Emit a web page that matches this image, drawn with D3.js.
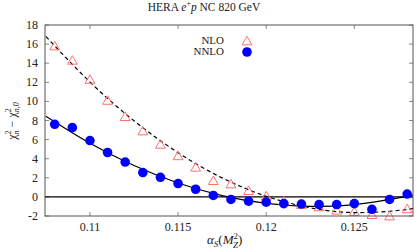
<!DOCTYPE html>
<html>
<head>
<meta charset="utf-8">
<script src="https://cdn.jsdelivr.net/npm/d3@7"></script>
<style>
  body { margin: 0; background: #fff; }
  text { font-family: "Liberation Serif", "DejaVu Serif", serif; fill: #222; }
</style>
</head>
<body>
<div id="chart"></div>
<script>
// alpha_s values of the scan points
var alphas = [0.108, 0.109, 0.110, 0.111, 0.112, 0.113, 0.114, 0.115, 0.116, 0.117, 0.118,
              0.119, 0.120, 0.121, 0.122, 0.123, 0.124, 0.125, 0.126, 0.127, 0.128];
// delta chi2
var nlo  = [15.8, 14.3, 12.3, 10.1, 8.4, 6.9, 5.5, 4.3, 3.1, 1.7, 1.35,
            0.65, 0.1, -0.45, -0.8, -1.05, -1.4, -1.55, -1.85, -2.0, -1.25];
var nnlo = [7.6, 7.25, 5.9, 4.65, 3.65, 2.55, 2.05, 1.4, 0.8, 0.15, -0.27,
            -0.45, -0.55, -0.7, -0.75, -0.8, -0.8, -0.7, -1.3, -0.27, 0.3];
// fitted curves
var fitX    = [0.1075, 0.110, 0.1125, 0.115, 0.1175, 0.120, 0.1225, 0.125, 0.1275, 0.1284];
var nloFit  = [16.8, 12.03, 7.97, 4.63, 1.99, 0.07, -1.14, -1.64, -1.42, -1.17];
var nnloFit = [8.44, 5.61, 3.28, 1.45, 0.13, -0.68, -0.99, -0.8, -0.11, 0.26];
var xTicks = [0.11, 0.115, 0.12, 0.125];
var yTicks = [-2, 0, 2, 4, 6, 8, 10, 12, 14, 16, 18];

var W = 417, H = 252;
var svg = d3.select('#chart').append('svg').attr('width', W).attr('height', H);

var pl = 45, pr = 413, pt = 25, pb = 216;
var x = d3.scaleLinear().domain([0.10745, 0.12833]).range([pl, pr]);
var y = d3.scaleLinear().domain([-2, 18]).range([pb, pt]);

// title
var title = svg.append('text').attr('x', 204).attr('y', 11).attr('text-anchor', 'middle')
    .style('font-size', '11.5px');
title.append('tspan').text('HERA ');
title.append('tspan').style('font-style', 'italic').text('e');
title.append('tspan').attr('dy', -5).style('font-size', '8px').text('+');
title.append('tspan').attr('dy', 5).style('font-style', 'italic').text('p');
title.append('tspan').text(' NC 820 GeV');

// frame ticks
var tickLen = 4;
var g = svg.append('g');
xTicks.forEach(function(t) {
  g.append('line').attr('x1', x(t)).attr('x2', x(t)).attr('y1', pb).attr('y2', pb - tickLen)
    .attr('stroke', '#888');
  g.append('line').attr('x1', x(t)).attr('x2', x(t)).attr('y1', pt).attr('y2', pt + tickLen)
    .attr('stroke', '#888');
  svg.append('text').attr('x', x(t)).attr('y', 231).attr('text-anchor', 'middle')
    .style('font-size', '12px').text(d3.format('')(t));
});
yTicks.forEach(function(t) {
  g.append('line').attr('x1', pl).attr('x2', pl + tickLen).attr('y1', y(t)).attr('y2', y(t))
    .attr('stroke', '#888');
  g.append('line').attr('x1', pr).attr('x2', pr - tickLen).attr('y1', y(t)).attr('y2', y(t))
    .attr('stroke', '#888');
  svg.append('text').attr('x', 38).attr('y', y(t) + 4).attr('text-anchor', 'end')
    .style('font-size', '12px').text(t);
});

// zero line
svg.append('line').attr('x1', pl).attr('x2', pr).attr('y1', y(0)).attr('y2', y(0))
  .attr('stroke', '#000').attr('stroke-width', 1.2);

// fit curves
var line = d3.line().x(function(d) { return x(d[0]); }).y(function(d) { return y(d[1]); })
  .curve(d3.curveNatural);
svg.append('clipPath').attr('id', 'clip').append('rect')
  .attr('x', pl).attr('y', pt).attr('width', pr - pl).attr('height', pb - pt);
svg.append('path').attr('clip-path', 'url(#clip)')
  .attr('d', line(d3.zip(fitX, nloFit)))
  .attr('fill', 'none').attr('stroke', '#000').attr('stroke-width', 1.2)
  .attr('stroke-dasharray', '4,3');
svg.append('path').attr('clip-path', 'url(#clip)')
  .attr('d', line(d3.zip(fitX, nnloFit)))
  .attr('fill', 'none').attr('stroke', '#000').attr('stroke-width', 1.2);

// points
var tri = d3.symbol().type(d3.symbolTriangle).size(42);
svg.append('g').selectAll('path').data(d3.zip(alphas, nlo)).enter().append('path')
  .attr('d', tri)
  .attr('transform', function(d) { return 'translate(' + x(d[0]) + ',' + (y(d[1]) + 1) + ')'; })
  .attr('fill', 'none').attr('stroke', '#ff6f6f').attr('stroke-width', 1);
svg.append('g').selectAll('circle').data(d3.zip(alphas, nnlo)).enter().append('circle')
  .attr('cx', function(d) { return x(d[0]); })
  .attr('cy', function(d) { return y(d[1]); })
  .attr('r', 4.8).attr('fill', '#0000ff');

// frame
svg.append('rect').attr('x', pl).attr('y', pt).attr('width', pr - pl).attr('height', pb - pt)
  .attr('fill', 'none').attr('stroke', '#555').attr('stroke-width', 1);

// legend
svg.append('text').attr('x', 224).attr('y', 43.5).attr('text-anchor', 'end')
  .style('font-size', '11px').text('NLO');
svg.append('path').attr('d', tri).attr('transform', 'translate(247,42)')
  .attr('fill', 'none').attr('stroke', '#ff6f6f');
svg.append('text').attr('x', 224).attr('y', 55).attr('text-anchor', 'end')
  .style('font-size', '11px').text('NNLO');
svg.append('circle').attr('cx', 247).attr('cy', 52).attr('r', 4.8).attr('fill', '#0000ff');

// x label
var xl = svg.append('text').attr('x', 207).attr('y', 244).style('font-size', '13px');
xl.append('tspan').style('font-style', 'italic').text('α');
xl.append('tspan').attr('dy', 3).style('font-size', '9px').style('font-style', 'italic').text('S');
xl.append('tspan').attr('dy', -3).text('(');
xl.append('tspan').style('font-style', 'italic').text('M');
xl.append('tspan').attr('dy', -5).style('font-size', '9px').text('2');
xl.append('tspan').attr('dx', -5).attr('dy', 9).style('font-size', '9px').style('font-style', 'italic').text('Z');
xl.append('tspan').attr('dy', -4).text(')');

// y label
var yl = svg.append('text').attr('transform', 'translate(16,121) rotate(-90)')
  .attr('text-anchor', 'middle').style('font-size', '12px');
yl.append('tspan').text('χ');
yl.append('tspan').attr('dy', -5).style('font-size', '8px').text('2');
yl.append('tspan').attr('dx', -4).attr('dy', 8).style('font-size', '8px').style('font-style', 'italic').text('n');
yl.append('tspan').attr('dy', -3).text(' − χ');
yl.append('tspan').attr('dy', -5).style('font-size', '8px').text('2');
yl.append('tspan').attr('dx', -4).attr('dy', 8).style('font-size', '8px').style('font-style', 'italic').text('n,0');
</script>
</body>
</html>
